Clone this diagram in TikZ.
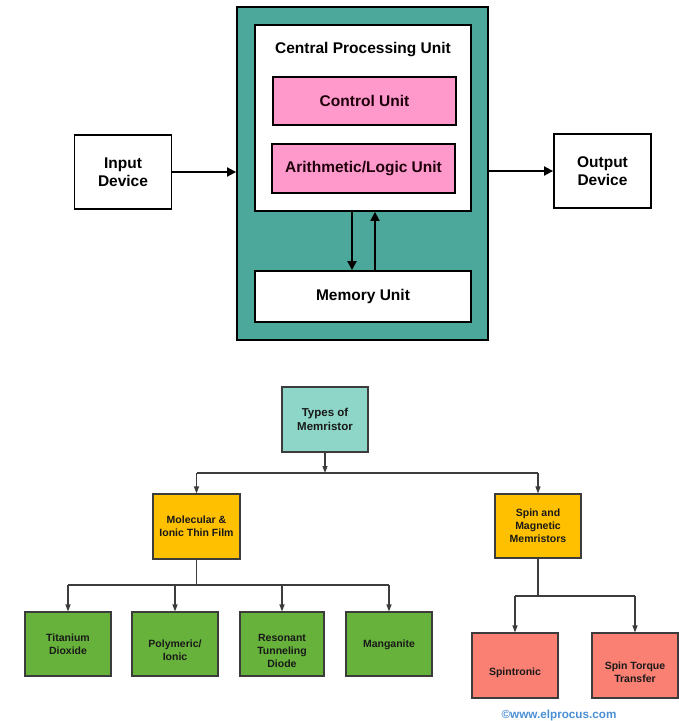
\documentclass[tikz,border=0pt]{standalone}
\usepackage{fontspec}
\setmainfont{Liberation Sans}
\usetikzlibrary{arrows.meta,calc}
\definecolor{tealbg}{HTML}{4BA89B}
\definecolor{pinkbox}{HTML}{FF99CC}
\definecolor{lteal}{HTML}{8DD6C8}
\definecolor{orangebox}{HTML}{FFC000}
\definecolor{greenbox}{HTML}{67B23A}
\definecolor{redbox}{HTML}{F98072}
\definecolor{copyblue}{HTML}{4A8FD4}
\definecolor{linegray}{HTML}{3C3C3C}
\tikzset{
  bigtxt/.style={font=\bfseries\fontsize{15.5}{18}\selectfont, text=black, align=center, inner sep=0pt},
  topbox/.style={draw=black, line width=1.8pt, bigtxt, anchor=center},
  smalltxt/.style={font=\bfseries\fontsize{10.5}{13}\selectfont, text=black!90, align=center, inner sep=0pt},
  lowbox/.style={draw=linegray, line width=1.1pt, smalltxt, anchor=center},
  bigarrow/.style={draw=black, line width=1.8pt, -{Triangle[width=9pt,length=9pt]}},
  smallarrow/.style={draw=linegray, line width=1.1pt, -{Triangle[width=5pt,length=7pt]}},
  plainline/.style={draw=linegray, line width=1.1pt},
}
\begin{document}
\begin{tikzpicture}[x=1pt,y=-1pt]
\useasboundingbox[fill=white] (0,0) rectangle (679,721);
% ---------- CPU diagram ----------
\node[topbox, fill=tealbg, minimum width=251pt, minimum height=333pt] (teal) at (362.5,173.5) {};
\node[topbox, fill=white, minimum width=216pt, minimum height=186pt] (cpu) at (363,118) {};
\node[bigtxt] (cpulabel) at (363,50) {Central Processing Unit};
\node[topbox, fill=pinkbox, minimum width=183pt, minimum height=48pt, text=black!85!purple] (cu) at (364.5,101) {Control Unit};
\node[topbox, fill=pinkbox, minimum width=183pt, minimum height=49pt, text=black!85!purple] (alu) at (363.5,168.5) {Arithmetic/Logic Unit};
\node[topbox, fill=white, minimum width=216pt, minimum height=51pt] (mem) at (363,296.5) {Memory Unit};
\node[topbox, fill=white, minimum width=97pt, minimum height=74pt] (in) at (123,172) {Input\\Device};
\node[topbox, fill=white, minimum width=97pt, minimum height=74pt] (out) at (602.5,171) {Output\\Device};
\draw[bigarrow] (in.east) -- (in.east -| teal.west);
\draw[bigarrow] (teal.east |- out.west) -- (out.west);
\draw[bigarrow] (cpu.south -| 352,0) -- (mem.north -| 352,0);
\draw[bigarrow] (mem.north -| 375,0) -- (cpu.south -| 375,0);
% ---------- Memristor tree ----------
\node[lowbox, fill=lteal, minimum width=86pt, minimum height=65pt, font=\bfseries\fontsize{11.5}{13.3}\selectfont] (types) at (325,419.5) {Types of\\Memristor};
\node[lowbox, fill=orangebox, minimum width=87pt, minimum height=65pt] (mol) at (196.5,526.5) {Molecular \&\\Ionic Thin Film};
\node[lowbox, fill=orangebox, minimum width=86pt, minimum height=64pt] (spin) at (538,526) {Spin and\\Magnetic\\Memristors};
\node[lowbox, fill=greenbox, minimum width=86pt, minimum height=64pt] (ti) at (68,644) {Titanium\\Dioxide};
\node[lowbox, fill=greenbox, minimum width=86pt, minimum height=64pt] (poly) at (175,644) {};
\node[smalltxt] (polyt) at ($(poly.center)+(0,6.5)$) {Polymeric/\\Ionic};
\node[lowbox, fill=greenbox, minimum width=84pt, minimum height=64pt] (res) at (282,644) {};
\node[smalltxt] (rest) at ($(res.center)+(0,7)$) {Resonant\\Tunneling\\Diode};
\node[lowbox, fill=greenbox, minimum width=86pt, minimum height=64pt] (man) at (389,644) {};
\node[smalltxt] (mant) at ($(man.center)+(0,1)$) {Manganite};
\node[lowbox, fill=redbox, minimum width=86pt, minimum height=65pt] (spt) at (515,665.5) {};
\node[smalltxt] (sptt) at ($(spt.center)+(0,7)$) {Spintronic};
\node[lowbox, fill=redbox, minimum width=86pt, minimum height=65pt] (stt) at (635,665.5) {};
\node[smalltxt] (sttt) at ($(stt.center)+(0,7)$) {Spin Torque\\Transfer};
\coordinate (j1) at (325,473);
\coordinate (j2) at (196.5,585);
\coordinate (j3) at (538,596);
\draw[smallarrow] (types.south) -- (j1);
\draw[plainline] (j1 -| mol.north) -- (j1 -| spin.north);
\draw[smallarrow] (j1 -| mol.north) -- (mol.north);
\draw[smallarrow] (j1 -| spin.north) -- (spin.north);
\draw[plainline] (mol.south) -- (j2);
\draw[plainline] (j2 -| ti.north) -- (j2 -| man.north);
\foreach \n in {ti,poly,res,man}{
  \draw[smallarrow] (j2 -| \n.north) -- (\n.north);
}
\draw[plainline] (spin.south) -- (j3);
\draw[plainline] (j3 -| spt.north) -- (j3 -| stt.north);
\draw[smallarrow] (j3 -| spt.north) -- (spt.north);
\draw[smallarrow] (j3 -| stt.north) -- (stt.north);
\node[font=\bfseries\fontsize{11.7}{13}\selectfont, text=copyblue, inner sep=0pt] (copy) at (559,715) {©www.elprocus.com};
\end{tikzpicture}
\end{document}
